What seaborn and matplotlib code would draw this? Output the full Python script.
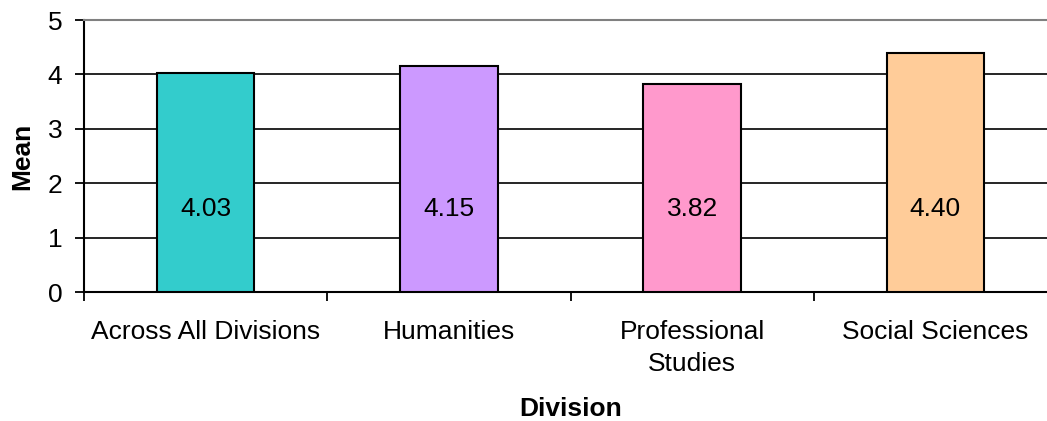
import matplotlib
matplotlib.use("Agg")
import matplotlib.pyplot as plt
import matplotlib.transforms as mtransforms
import seaborn as sns
import pandas as pd

categories = ["Across All Divisions", "Humanities", "Professional\nStudies", "Social Sciences"]
means = [4.03, 4.15, 3.82, 4.40]
colors = ["#33CCCC", "#CC99FF", "#FF99CC", "#FFCC99"]
y_ticks = [0, 1, 2, 3, 4, 5]

sns.set_theme(style="white")
plt.rcParams["font.family"] = ["Liberation Sans", "DejaVu Sans"]
plt.rcParams["text.color"] = "black"
plt.rcParams["axes.labelcolor"] = "black"
plt.rcParams["xtick.color"] = "black"
plt.rcParams["ytick.color"] = "black"

df = pd.DataFrame({"Division": categories, "Mean": means})

fig = plt.figure(figsize=(10.47, 4.21), dpi=100)
ax = fig.add_axes([84 / 1047, (421 - 292) / 421, 973 / 1047, 272 / 421])

sns.barplot(data=df, x="Division", y="Mean", hue="Division", palette=colors,
            saturation=1, width=0.4, edgecolor="black", linewidth=1.5,
            legend=False, ax=ax, zorder=3)

ax.set_xlim(-0.5, len(categories) - 0.5)
ax.set_ylim(0, 5)
ax.set_yticks(y_ticks)
ax.set_yticklabels([str(t) for t in y_ticks])

# grid lines
for t in y_ticks[1:-1]:
    ax.axhline(t, color="black", linewidth=1.2, zorder=1)

# category ticks at boundaries, labels at centers
ax.set_xticks([i - 0.5 for i in range(len(categories) + 1)])
ax.set_xticklabels([])
ax.set_xticks(range(len(categories)), minor=True)
ax.set_xticklabels(categories, minor=True, fontsize=19, linespacing=1.45)
ax.tick_params(axis="x", which="major", direction="out", length=6.5, width=1.3,
               color="black", bottom=True)
ax.tick_params(axis="x", which="minor", length=0, pad=20, bottom=True)
ax.tick_params(axis="y", direction="out", length=6.5, width=1.3, color="black",
               labelsize=19, pad=9, left=True)

for side in ["left", "bottom"]:
    ax.spines[side].set_color("black")
    ax.spines[side].set_linewidth(1.5)
ax.spines["top"].set_color("#808080")
ax.spines["top"].set_linewidth(1.5)
ax.spines["right"].set_color("#808080")
ax.spines["right"].set_linewidth(1.5)

ax.set_xlabel("Division", fontsize=19, fontweight="bold", labelpad=15)
ax.set_ylabel("Mean", fontsize=19, fontweight="bold", labelpad=10)

# value labels
trans = mtransforms.blended_transform_factory(ax.transData, ax.transAxes)
for i, v in enumerate(means):
    ax.text(i, 0.305, f"{v:.2f}", ha="center", va="center", fontsize=19,
            transform=trans, zorder=4)

fig.savefig("out.png", dpi=100, facecolor="white")
